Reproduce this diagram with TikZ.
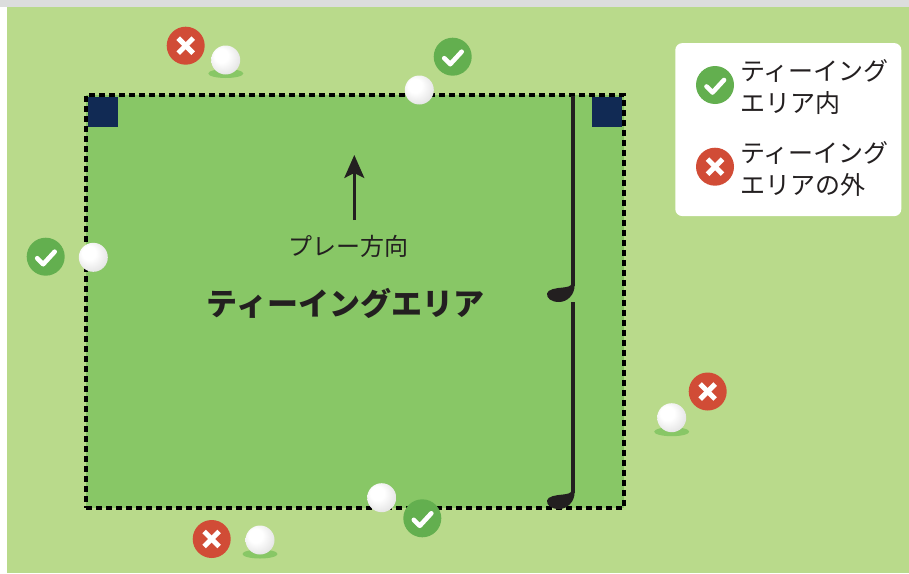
\documentclass[tikz,border=0pt]{standalone}
\usepackage{fontspec}
\newfontfamily\jpfont{Noto Sans CJK JP}
\usetikzlibrary{arrows.meta,shapes.geometric}

\definecolor{rough}{HTML}{B9DA8B}
\definecolor{teegreen}{HTML}{88C766}
\definecolor{navy}{HTML}{112A54}
\definecolor{okgreen}{HTML}{63AF4F}
\definecolor{ngred}{HTML}{D14C36}
\definecolor{ink}{HTML}{231F20}
\definecolor{band}{HTML}{DCDDDD}

% golf ball: white with a soft grey rim towards the lower right
\pgfdeclareradialshading{golfball}{\pgfpoint{-10bp}{10bp}}{%
  color(0bp)=(white); color(12bp)=(white); color(26bp)=(black!8);
  color(40bp)=(black!17); color(50bp)=(black!24)}

\tikzset{
  teebox/.style={rectangle, fill=teegreen, draw=black, line width=3.2pt,
    dash pattern=on 6pt off 4pt, inner sep=0pt, outer sep=0pt,
    minimum width=538pt, minimum height=413pt},
  marker/.style={rectangle, fill=navy, inner sep=0pt, minimum size=30.5pt},
  ball/.style={circle, shading=golfball, inner sep=0pt, minimum size=29pt},
  shadowspot/.style={ellipse, fill=teegreen, inner sep=0pt,
    minimum width=35pt, minimum height=9pt},
  okmark/.style={circle, fill=okgreen, inner sep=0pt, minimum size=38pt,
    path picture={\draw[white, line width=4.6pt, line cap=round, line join=round]
      ([shift={(-8.5pt,-1.5pt)}]path picture bounding box.center)
      -- ++(6pt,-6pt) -- ++(11.5pt,12.5pt);}},
  ngmark/.style={circle, fill=ngred, inner sep=0pt, minimum size=38pt,
    path picture={\draw[white, line width=5pt]
      ([shift={(-7.5pt,-7.5pt)}]path picture bounding box.center) -- ++(15pt,15pt);
      \draw[white, line width=5pt]
      ([shift={(-7.5pt,7.5pt)}]path picture bounding box.center) -- ++(15pt,-15pt);}},
  legendbox/.style={rectangle, fill=white, rounded corners=7pt, inner sep=0pt,
    minimum width=226pt, minimum height=173pt},
  legendtext/.style={anchor=west, align=left, inner sep=0pt, text=ink,
    font=\jpfont\fontsize{25}{32}\selectfont},
  shaft/.style={draw=ink, line width=3.2pt},
  clubhead/.pic={\fill[ink] (1.6,1) .. controls (1.8,11) and (-6,18) .. (-14,18)
      .. controls (-22,18) and (-26.5,14) .. (-26,9.5)
      .. controls (-25.5,5.5) and (-17,4) .. (-10,3.5)
      .. controls (-5,3) and (-2,2) .. (-1.6,0) -- cycle;}
}

\begin{document}
\begin{tikzpicture}[x=1pt,y=-1pt]
\useasboundingbox (0,0) rectangle (909,573);

% ground
\fill[white] (0,0) rectangle (909,573);
\fill[rough] (7,7) rectangle (909,573);
\fill[band] (0,0) rectangle (909,7);

% teeing area with its two tee markers
\node[teebox] (tee) at (355,301.5) {};
\node[marker, anchor=north west] (markL) at (87.6,96.6) {};
\node[marker, anchor=north east] (markR) at (622.4,96.6) {};

% two club lengths measured from the marker line
\coordinate (clubAtop) at (573,96);
\coordinate (clubAbot) at (573,286);
\coordinate (clubBtop) at (573,302);
\coordinate (clubBbot) at (573,493);
\draw[shaft] (clubAtop) -- (clubAbot);
\draw[shaft] (clubBtop) -- (clubBbot);
\pic at (573,284) {clubhead};
\pic at (573,491) {clubhead};

% direction of play
\coordinate (arrowtail) at (354.3,220);
\coordinate (arrowtip) at (354.3,155);
\draw[ink, line width=2.6pt, -{Stealth[length=23pt, width=20pt, inset=5pt]}]
  (arrowtail) -- (arrowtip);
\node[text=ink, font=\jpfont\fontsize{24}{24}\selectfont] (playdir) at (348,246) {プレー方向};
\node[text=ink, font=\jpfont\bfseries\fontsize{31}{31}\selectfont] (title) at (345.5,303) {ティーイングエリア};

% balls and verdicts
\node[shadowspot] (s1) at (225.8,73.5) {};
\node[ball] (b1) at (225.7,60) {};
\node[ngmark] (n1) at (185.7,45.7) {};

\node[ball] (b2) at (419.3,90) {};
\node[okmark] (o2) at (452.7,56.7) {};

\node[ball] (b3) at (93.3,257.3) {};
\node[okmark] (o3) at (45.7,256.7) {};

\node[shadowspot] (s4) at (671.7,431.7) {};
\node[ball] (b4) at (671.7,417.7) {};
\node[ngmark] (n4) at (707.7,391.5) {};

\node[ball] (b5) at (381.7,497.7) {};
\node[okmark] (o5) at (422.3,518.3) {};

\node[shadowspot] (s6) at (260,554) {};
\node[ball] (b6) at (260,540) {};
\node[ngmark] (n6) at (211.7,539) {};

% legend
\node[legendbox] (legend) at (788.3,129.6) {};
\node[okmark] (legok) at (715,85) {};
\node[legendtext] (legoktext) at (740,87) {ティーイング\\エリア内};
\node[ngmark] (legng) at (715,166.7) {};
\node[legendtext] (legngtext) at (740,169) {ティーイング\\エリアの外};
\end{tikzpicture}
\end{document}
